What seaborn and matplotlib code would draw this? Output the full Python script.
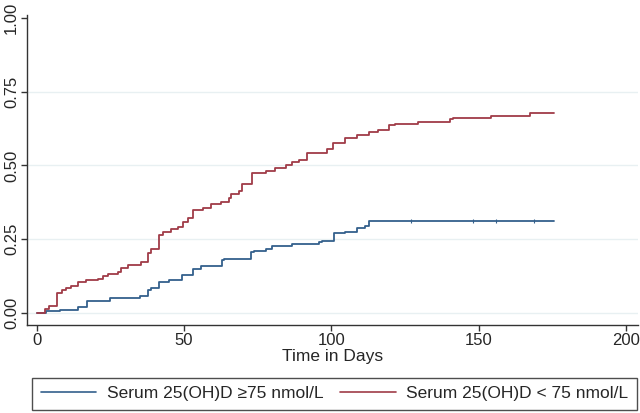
import pandas as pd
import matplotlib.pyplot as plt
import seaborn as sns
from matplotlib.lines import Line2D

# Cumulative incidence (step points: day, value)
days_high = [0, 3.0, 7.8, 14.0, 17.0, 24.7, 34.9, 37.7, 38.8, 41.6, 45.0, 49.3,
             52.9, 55.7, 63.0, 63.6, 72.6, 73.8, 77.7, 80.0, 86.7, 95.8, 96.9,
             100.8, 104.8, 108.7, 111.5, 112.7, 175.6]
cum_high = [0, 0.005, 0.010, 0.019, 0.041, 0.049, 0.057, 0.077, 0.086, 0.105,
            0.113, 0.130, 0.150, 0.158, 0.178, 0.183, 0.205, 0.209, 0.215, 0.226,
            0.232, 0.240, 0.245, 0.270, 0.275, 0.288, 0.295, 0.310, 0.310]

days_low = [0, 2.7, 4.2, 6.9, 8.4, 9.8, 11.7, 14.0, 16.8, 20.7, 22.4, 24.1, 27.5,
            28.7, 30.9, 35.4, 37.7, 38.8, 41.6, 42.7, 45.6, 48.0, 49.5, 51.2, 52.9,
            56.3, 59.1, 62.5, 65.3, 65.9, 68.5, 69.8, 73.2, 77.7, 81.0, 84.5, 86.7,
            89.0, 91.8, 98.6, 100.7, 104.8, 108.7, 112.7, 116.0, 119.5, 121.7,
            129.6, 140.3, 141.5, 154.4, 167.4, 175.6]
cum_low = [0, 0.012, 0.023, 0.066, 0.077, 0.083, 0.090, 0.105, 0.110, 0.116, 0.124,
           0.133, 0.139, 0.153, 0.164, 0.171, 0.202, 0.217, 0.265, 0.273, 0.283,
           0.290, 0.307, 0.323, 0.348, 0.357, 0.370, 0.377, 0.388, 0.404, 0.413,
           0.437, 0.474, 0.482, 0.490, 0.502, 0.511, 0.519, 0.541, 0.556, 0.577,
           0.592, 0.603, 0.614, 0.620, 0.637, 0.640, 0.646, 0.657, 0.662, 0.667,
           0.679, 0.679]

# censoring marks on the flat part of the upper-vitamin-D curve
cens_days_high = [127, 148, 156, 169]

label_high = "Serum 25(OH)D \u226575 nmol/L"
label_low = "Serum 25(OH)D < 75 nmol/L"

df = pd.concat([
    pd.DataFrame({"day": days_high, "cum": cum_high, "group": label_high}),
    pd.DataFrame({"day": days_low, "cum": cum_low, "group": label_low}),
])

sns.set_style("white")
plt.rcParams['font.family'] = ['Liberation Sans', 'DejaVu Sans']

colors = {label_high: "#34608c", label_low: "#a03c48"}
fs = 12.5

fig = plt.figure(figsize=(6.4, 4.13), dpi=100)
ax = fig.add_axes([0.042, 0.213, 0.955, 0.751])

for y in [0, 0.25, 0.5, 0.75]:
    ax.axhline(y, color="#e8f0f2", lw=1.0, zorder=0)

sns.lineplot(data=df, x="day", y="cum", hue="group", palette=colors,
             estimator=None, sort=False, drawstyle="steps-post", lw=1.3,
             legend=False, ax=ax)
ax.scatter(cens_days_high, [0.310] * len(cens_days_high), marker="|", s=12,
           color=colors[label_high], lw=0.8)

ax.set_xlim(-3.4, 204.2)
ax.set_ylim(-0.041, 1.01)
ax.set_xticks([0, 50, 100, 150, 200])
ax.set_yticks([0, 0.25, 0.5, 0.75, 1.0])
ax.set_yticklabels(["0.00", "0.25", "0.50", "0.75", "1.00"], rotation=90, va="center")
ax.tick_params(axis="both", direction="out", length=4, width=1, color="#333333",
               labelsize=12, left=True, bottom=True, pad=1.5)
ax.set_xlabel("Time in Days", fontsize=fs, labelpad=1)
ax.set_ylabel("")
for s in ["top", "right"]:
    ax.spines[s].set_visible(False)
for s in ["left", "bottom"]:
    ax.spines[s].set_color("#333333")
    ax.spines[s].set_linewidth(1.0)

handles = [Line2D([], [], color=colors[label_high], lw=1.2),
           Line2D([], [], color=colors[label_low], lw=1.2)]
leg = fig.legend(handles, [label_high, label_low], ncol=2, mode="expand",
                 loc="lower left", bbox_to_anchor=(0.05, 0.007, 0.945, 0.078),
                 fontsize=fs, handlelength=3.2, handletextpad=0.6,
                 borderaxespad=0, borderpad=0.5, fancybox=False, frameon=True)
leg.get_frame().set_edgecolor("#222222")
leg.get_frame().set_linewidth(1.0)

plt.savefig("out.png", dpi=100)
plt.close()
